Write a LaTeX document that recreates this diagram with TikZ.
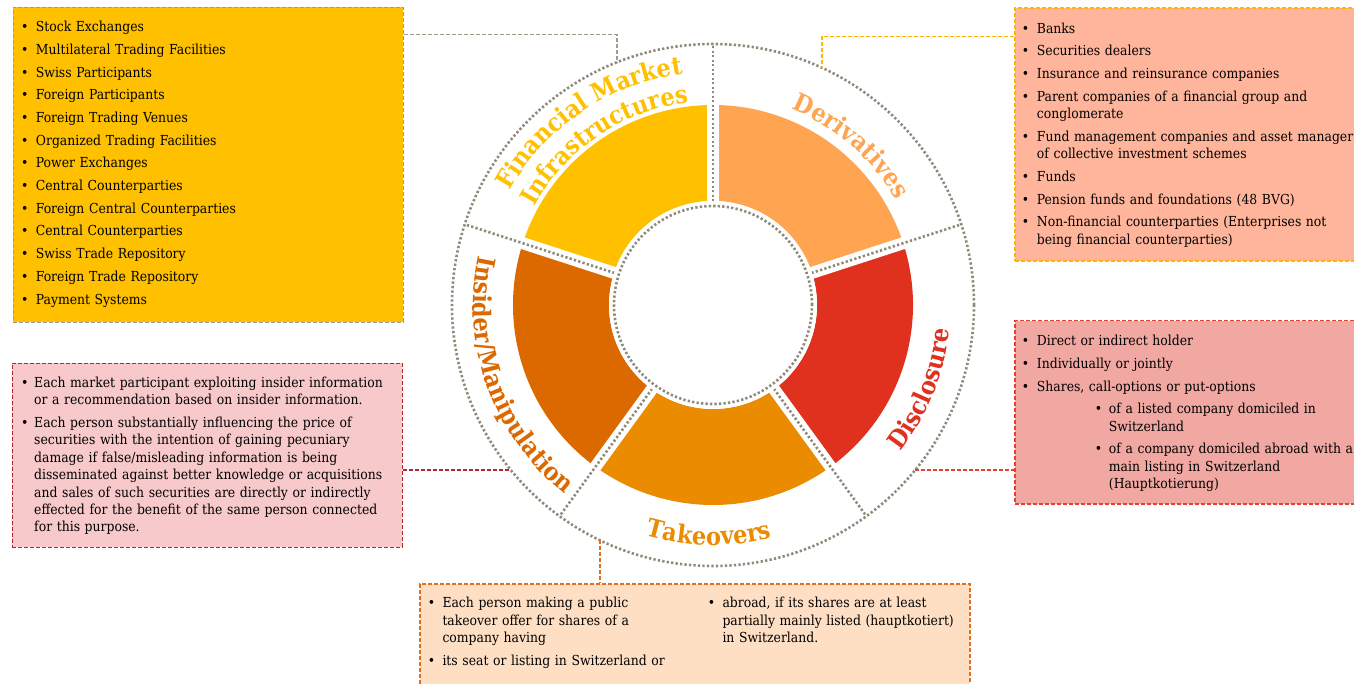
\documentclass[tikz,border=0pt]{standalone}
\usepackage{fontspec}
\setmainfont{DejaVu Serif Condensed}
\usetikzlibrary{decorations.text}

\definecolor{fmiyellow}{HTML}{FFC000}
\definecolor{derivorange}{HTML}{FFA552}
\definecolor{disclred}{HTML}{E0301E}
\definecolor{takeorange}{HTML}{EB8C00}
\definecolor{insidorange}{HTML}{DC6900}
\definecolor{dotgray}{HTML}{918A7A}
\definecolor{fmiline}{HTML}{A19A8B}
\definecolor{derivline}{HTML}{FFB600}
\definecolor{disclline}{HTML}{E8402F}
\definecolor{takeline}{HTML}{E07020}
\definecolor{insidline}{HTML}{B3282E}
\definecolor{derivfill}{HTML}{FFB59B}
\definecolor{disclfill}{HTML}{F1A8A2}
\definecolor{takefill}{HTML}{FEDFC4}
\definecolor{insidfill}{HTML}{F7C9CB}

\newlength{\bulw}
\setlength{\bulw}{14pt}
\newcommand{\li}[1]{\hangindent=\bulw\hangafter=1\noindent\hbox to\bulw{\textbullet\hfil}#1\par}
\newcommand{\subli}[1]{\hangindent=87pt\hangafter=1\noindent\hskip73pt\hbox to 14pt{\textbullet\hfil}#1\par}
\newcommand{\ringfont}{\fontsize{25}{25}\selectfont\bfseries}

\begin{document}
\begin{tikzpicture}[x=1pt,y=1pt,
    dotline/.style={draw=dotgray,line width=2.6pt,dash pattern=on 2.3pt off 2.2pt},
    link/.style={line width=1.5pt,dash pattern=on 4pt off 2pt},
    listtext/.style={anchor=base west,inner sep=0pt,text width=500pt,align=left,
      font=\fontsize{13.8}{17.4}\selectfont,
      execute at begin node={\setlength{\parskip}{5.3pt}\setlength{\bulw}{#1}}}]

  \useasboundingbox (0,0) rectangle (1354,-684);

  % the boxes
  \tikzstyle{listbox}=[rectangle,line width=1.5pt,dash pattern=on 4pt off 2pt,
    anchor=north west,inner sep=0pt]

  \node[listbox,fill=fmiyellow,draw=fmiline,minimum width=390,minimum height=315] (fmibox) at (12.7,-6.7) {};
  \node[listbox,fill=derivfill,draw=derivline,minimum width=360,minimum height=253] (derivbox) at (1014,-7.3) {};
  \node[listbox,fill=insidfill,draw=insidline,minimum width=390,minimum height=184] (insidbox) at (11.7,-362.7) {};
  \node[listbox,fill=disclfill,draw=disclline,minimum width=360,minimum height=183] (disclbox) at (1014,-320) {};
  \node[listbox,fill=takefill,draw=takeline,minimum width=550,minimum height=130] (takebox) at (419.3,-583.3) {};

  % the ring
  \coordinate (hub) at (713,-305);
  \foreach \a/\col in {90/fmiyellow,18/derivorange,-54/disclred,-126/takeorange,162/insidorange}
    \fill[\col] ([shift={(\a:200)}]hub) arc[start angle=\a,end angle=\a+72,radius=200]
      -- ([shift={({\a+72}:104)}]hub) arc[start angle=\a+72,end angle=\a,radius=104] -- cycle;
  \foreach \a in {90,18,-54,-126,162} {
    \draw[white,line width=12pt] ([shift={(\a:95)}]hub) -- ([shift={(\a:206)}]hub);
    \draw[dotline] ([shift={(\a:99)}]hub) -- ([shift={(\a:261)}]hub);
  }
  \fill[white] (hub) circle (104);
  \draw[dotline] (hub) circle (99);
  \draw[dotline] (hub) circle (261);

  % the labels
  \path[decorate,decoration={text along path,text align=center,
      text={|\ringfont\color{fmiyellow}|Financial Market}}]
    ([shift={(174:233)}]hub) arc[start angle=174,end angle=74,radius=233];
  \path[decorate,decoration={text along path,text align=center,
      text={|\ringfont\color{fmiyellow}|Infrastructures}}]
    ([shift={(174:204)}]hub) arc[start angle=174,end angle=74,radius=204];
  \path[decorate,decoration={text along path,text align=center,
      text={|\ringfont\color{derivorange}|Derivatives}}]
    ([shift={(90:211)}]hub) arc[start angle=90,end angle=8,radius=211];
  \path[decorate,decoration={text along path,text align=center,
      text={|\ringfont\color{disclred}|Disclosure}}]
    ([shift={(-58:238)}]hub) arc[start angle=-58,end angle=14,radius=238];
  \path[decorate,decoration={text along path,text align=center,
      text={|\ringfont\color{takeorange}|Takeovers}}]
    ([shift={(-140:240)}]hub) arc[start angle=-140,end angle=-42,radius=240];
  \path[decorate,decoration={text along path,text align=center,
      text={|\ringfont\color{insidorange}|Insider/Manipulation}}]
    ([shift={(160:240)}]hub) arc[start angle=160,end angle=240,radius=240];

  % the links
  \coordinate (fmipin) at ([shift={(111.6:261)}]hub);
  \coordinate (derivpin) at ([shift={(65.3:261)}]hub);
  \coordinate (insidpin) at ([shift={(219.2:261)}]hub);
  \coordinate (disclpin) at ([shift={(-39.2:261)}]hub);
  \coordinate (takepin) at ([shift={(244.3:261)}]hub);
  \draw[link,draw=fmiline] ([yshift=-28pt]fmibox.north east) -| (fmipin);
  \draw[link,draw=derivline] ([yshift=-29pt]derivbox.north west) -| (derivpin);
  \draw[link,draw=insidline] (insidbox.east |- insidpin) -- (insidpin);
  \draw[link,draw=disclline] (disclpin) -- (disclbox.west |- disclpin);
  \draw[link,draw=takeline] (takepin) -- (takebox.north -| takepin);

  % the texts
  \node[listtext=14.7pt] (fmitext) at (21,-31.7) {%
    \li{Stock Exchanges}
    \li{Multilateral Trading Facilities}
    \li{Swiss Participants}
    \li{Foreign Participants}
    \li{Foreign Trading Venues}
    \li{Organized Trading Facilities}
    \li{Power Exchanges}
    \li{Central Counterparties}
    \li{Foreign Central Counterparties}
    \li{Central Counterparties}
    \li{Swiss Trade Repository}
    \li{Foreign Trade Repository}
    \li{Payment Systems}};
  \node[listtext=15pt] (derivtext) at (1021.7,-33.3) {%
    \li{Banks}
    \li{Securities dealers}
    \li{Insurance and reinsurance companies}
    \li{Parent companies of a financial group and\newline conglomerate}
    \li{Fund management companies and asset managers\newline of collective investment schemes}
    \li{Funds}
    \li{Pension funds and foundations (48 BVG)}
    \li{Non-financial counterparties (Enterprises not\newline being financial counterparties)}};
  \node[listtext=13pt] (insidtext) at (21,-387.3) {%
    \li{Each market participant exploiting insider information\newline
      or a recommendation based on insider information.}
    \li{Each person substantially influencing the price of\newline
      securities with the intention of gaining pecuniary\newline
      damage if false/misleading information is being\newline
      disseminated against better knowledge or acquisitions\newline
      and sales of such securities are directly or indirectly\newline
      effected for the benefit of the same person connected\newline
      for this purpose.}};
  \node[listtext=15pt] (discltext) at (1021.7,-345.7) {%
    \li{Direct or indirect holder}
    \li{Individually or jointly}
    \li{Shares, call-options or put-options}
    \subli{of a listed company domiciled in\newline Switzerland}
    \subli{of a company domiciled abroad with a\newline main listing in Switzerland\newline (Hauptkotierung)}};
  \node[listtext=14.6pt] (taketext) at (427.7,-607.7) {%
    \li{Each person making a public\newline takeover offer for shares of a\newline company having}
    \li{its seat or listing in Switzerland or}};
  \node[listtext=14.6pt] (abroadtext) at (707.7,-607.7) {%
    \li{abroad, if its shares are at least\newline partially mainly listed (hauptkotiert)\newline in Switzerland.}};

\end{tikzpicture}
\end{document}
